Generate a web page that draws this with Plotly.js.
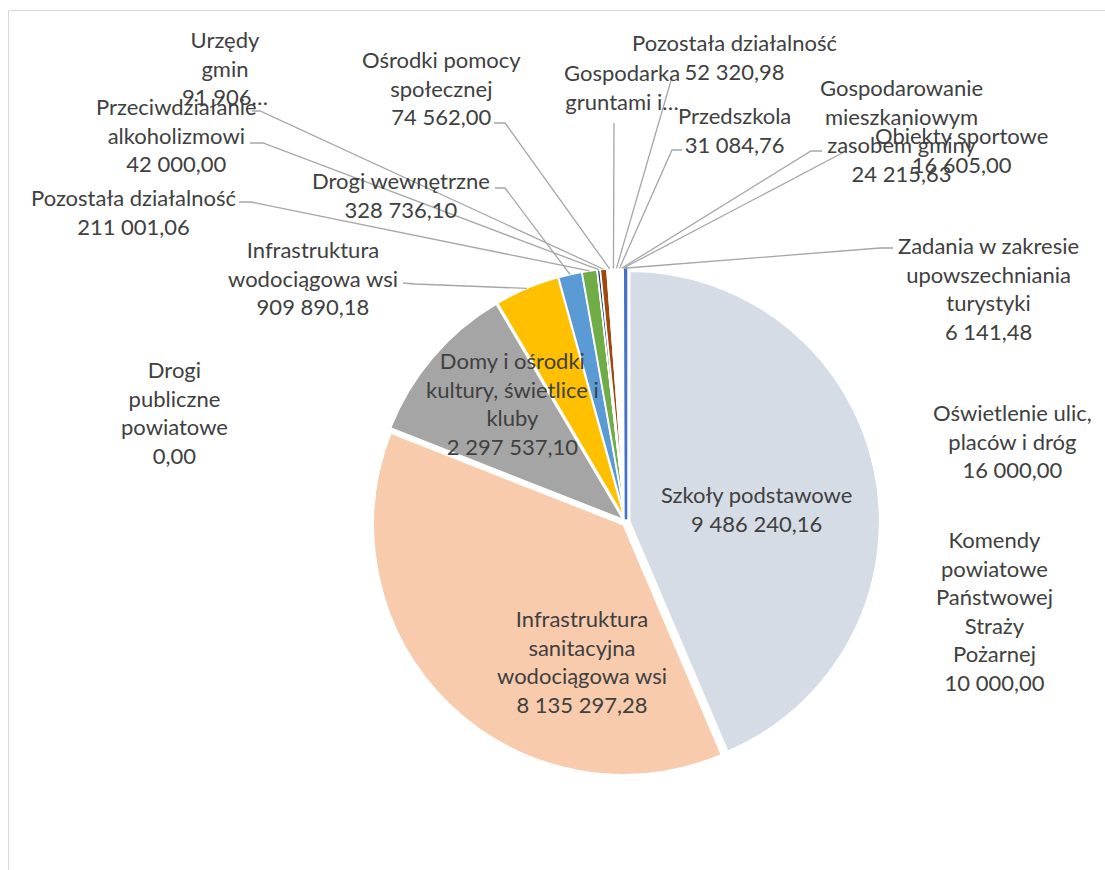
<!DOCTYPE html>
<html>
<head>
<meta charset="utf-8">
<script src="https://cdn.plot.ly/plotly-3.0.1.min.js"></script>
<style>
html,body{margin:0;padding:0;background:#ffffff;}
#chart{width:1105px;height:870px;}
</style>
</head>
<body>
<div id="chart"></div>
<script>
// ---- DATA (clockwise from 12 o'clock) ----
const categories = [
  "Szkoły podstawowe",
  "Infrastruktura sanitacyjna wodociągowa wsi",
  "Domy i ośrodki kultury, świetlice i kluby",
  "Infrastruktura wodociągowa wsi",
  "Drogi wewnętrzne",
  "Pozostała działalność",
  "Drogi publiczne powiatowe",
  "Przeciwdziałanie alkoholizmowi",
  "Urzędy gmin",
  "Ośrodki pomocy społecznej",
  "Gospodarka gruntami i nieruchomościami",
  "Pozostała działalność ",
  "Przedszkola",
  "Gospodarowanie mieszkaniowym zasobem gminy",
  "Obiekty sportowe",
  "Zadania w zakresie upowszechniania turystyki",
  "Oświetlenie ulic, placów i dróg",
  "Komendy powiatowe Państwowej Straży Pożarnej"
];
const values = [
  9486240.16, 8135297.28, 2297537.10, 909890.18, 328736.10, 211001.06,
  0.00, 42000.00, 91906.00, 74562.00, 30000.00, 52320.98,
  31084.76, 24215.63, 16605.00, 6141.48, 16000.00, 10000.00
];
// data labels as displayed in the chart
const labelTexts = [
  "Szkoły podstawowe<br>9 486 240,16",
  "Infrastruktura<br>sanitacyjna<br>wodociągowa wsi<br>8 135 297,28",
  "Domy i ośrodki<br>kultury, świetlice i<br>kluby<br>2 297 537,10",
  "Infrastruktura<br>wodociągowa wsi<br>909 890,18",
  "Drogi wewnętrzne<br>328 736,10",
  "Pozostała działalność<br>211 001,06",
  "Drogi<br>publiczne<br>powiatowe<br>0,00",
  "Przeciwdziałanie<br>alkoholizmowi<br>42 000,00",
  "Urzędy<br>gmin<br>91 906…",
  "Ośrodki pomocy<br>społecznej<br>74 562,00",
  "Gospodarka<br>gruntami i…",
  "Pozostała działalność<br>52 320,98",
  "Przedszkola<br>31 084,76",
  "Gospodarowanie<br>mieszkaniowym<br>zasobem gminy<br>24 215,63",
  "Obiekty sportowe<br>16 605,00",
  "Zadania w zakresie<br>upowszechniania<br>turystyki<br>6 141,48",
  "Oświetlenie ulic,<br>placów i dróg<br>16 000,00",
  "Komendy<br>powiatowe<br>Państwowej<br>Straży<br>Pożarnej<br>10 000,00"
];

// ---- STYLE / LAYOUT ----
const sliceColors = [
  "#D6DCE5", "#F8CBAD", "#A5A5A5", "#FFC000", "#5B9BD5", "#70AD47",
  "#264478", "#264478", "#9E480E", "#FFFFFF", "#FFFFFF", "#FFFFFF",
  "#FFFFFF", "#FFFFFF", "#FFFFFF", "#FFFFFF", "#FFFFFF", "#4472C4"
];
const lineColors = sliceColors.map((c, i) => i === sliceColors.length - 1 ? "#4472C4" : "#FFFFFF");
const lineWidths = sliceColors.map((c, i) => i === sliceColors.length - 1 ? 2.6 : 1.6);

// label centre positions (px)
const labelPos = [
  [756, 509], [582, 661], [512, 404], [313, 278], [401, 195], [133, 212],
  [174, 412], [176, 135], [225, 68], [441, 88], [622, 87], [734, 57],
  [734, 130], [901, 130], [961, 150], [988, 289], [1012, 441], [994, 611]
];
// leader lines: [anchor, elbow] in px, or null
const leaders = [
  null, null, null,
  [[403, 283], [415, 284]],
  [[495, 188], [505, 188]],
  [[239, 202], [251, 202]],
  null,
  [[250, 143], [263, 143]],
  [[252, 111], [260, 111]],
  [[494, 123], [505, 123]],
  [[614, 123], null],
  [[672, 77], null],
  [[682, 150], [672, 150]],
  [[822, 151], [811, 151]],
  [[846, 151], null],
  [[893, 248], [880, 248]],
  null, null
];

const W = 1105, H = 870;
const CX = 626, CY = 522, R = 250, PULL = 0.015;
const RO = R * (1 + PULL);
const px = x => x / W;
const py = y => 1 - y / H;

const total = values.reduce((a, b) => a + b, 0);
let cum = 0;
const midAngles = values.map(v => { const m = (cum + v / 2) / total * 2 * Math.PI; cum += v; return m; });

const trace = {
  type: "pie",
  labels: categories,
  values: values,
  sort: false,
  direction: "clockwise",
  rotation: 0,
  pull: values.map(() => PULL),
  textinfo: "none",
  hoverinfo: "label+value",
  showlegend: false,
  marker: { colors: sliceColors, line: { color: lineColors, width: lineWidths } },
  domain: {
    x: [(CX - RO) / W, (CX + RO) / W],
    y: [(H - CY - RO) / H, (H - CY + RO) / H]
  }
};

const annotations = labelTexts.map((t, i) => ({
  xref: "paper", yref: "paper",
  x: px(labelPos[i][0]), y: py(labelPos[i][1]),
  xanchor: "center", yanchor: "middle", align: "center",
  text: t, showarrow: false,
  font: { family: "Lato, 'Open Sans', sans-serif", size: 22, color: "#404040" }
}));

const shapes = [{
  type: "rect", xref: "paper", yref: "paper",
  x0: px(8.5), x1: 1.02, y0: -0.02, y1: py(10.5),
  line: { color: "#D9D9D9", width: 1 }, fillcolor: "rgba(0,0,0,0)", layer: "below"
}];
leaders.forEach((ld, i) => {
  if (!ld) return;
  const a = midAngles[i];
  const ex = CX + RO * Math.sin(a), ey = CY - RO * Math.cos(a);
  let path = "M" + px(ld[0][0]) + "," + py(ld[0][1]);
  if (ld[1]) path += " L" + px(ld[1][0]) + "," + py(ld[1][1]);
  path += " L" + px(ex) + "," + py(ey);
  shapes.push({ type: "path", xref: "paper", yref: "paper", path: path,
    line: { color: "#A6A6A6", width: 1.3 }, layer: "above" });
});

const layout = {
  width: W, height: H,
  margin: { l: 0, r: 0, t: 0, b: 0 },
  paper_bgcolor: "#ffffff",
  plot_bgcolor: "#ffffff",
  annotations: annotations,
  shapes: shapes
};

Plotly.newPlot("chart", [trace], layout, { displayModeBar: false, staticPlot: true });
</script>
</body>
</html>
